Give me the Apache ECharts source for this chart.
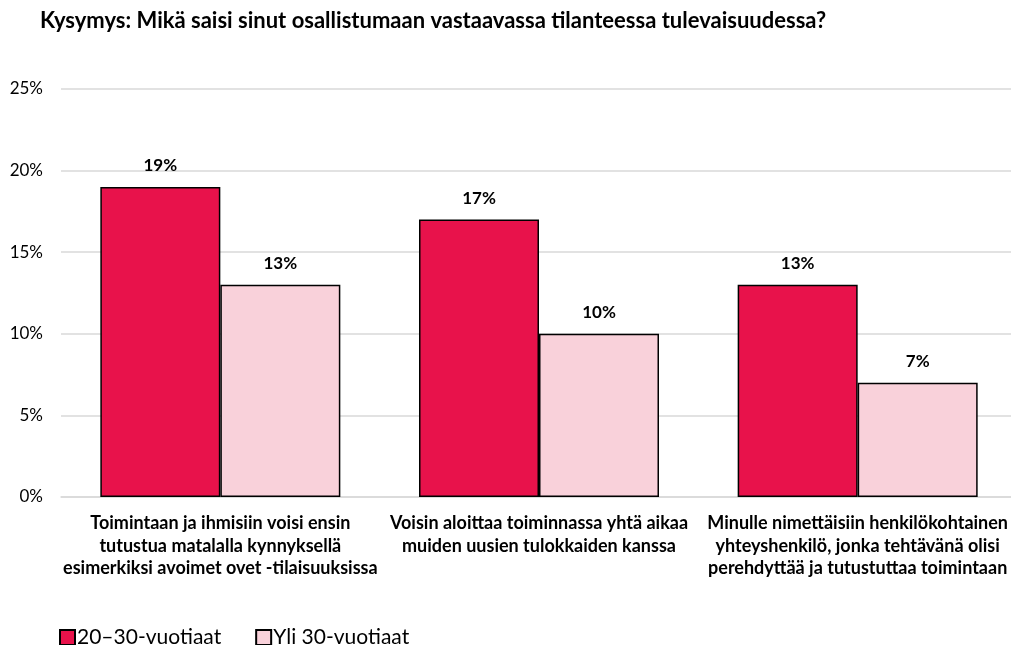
<!DOCTYPE html>
<html>
<head>
<meta charset="utf-8">
<script src="https://cdn.jsdelivr.net/npm/echarts@6/dist/echarts.min.js"></script>
<style>
  html, body { margin: 0; padding: 0; background: #fff; }
  #main { width: 1011px; height: 645px; }
</style>
</head>
<body>
<div id="main"></div>
<script>
var title = 'Kysymys: Mikä saisi sinut osallistumaan vastaavassa tilanteessa tulevaisuudessa?';
var categories = [
  'Toimintaan ja ihmisiin voisi ensin\ntutustua matalalla kynnyksellä\nesimerkiksi avoimet ovet -tilaisuuksissa',
  'Voisin aloittaa toiminnassa yhtä aikaa\nmuiden uusien tulokkaiden kanssa',
  'Minulle nimettäisiin henkilökohtainen\nyhteyshenkilö, jonka tehtävänä olisi\nperehdyttää ja tutustuttaa toimintaan'
];
var seriesNames = ['20–30-vuotiaat', 'Yli 30-vuotiaat'];
var young = [19, 17, 13];
var older = [13, 10, 7];

var font = 'Lato, "Open Sans", sans-serif';
var chart = echarts.init(document.getElementById('main'));

var labelStyle = {
  show: true,
  position: 'top',
  distance: 13,
  formatter: '{c}%',
  fontFamily: font,
  fontSize: 17,
  fontWeight: 'bold',
  color: '#000'
};

var option = {
  backgroundColor: '#fff',
  title: {
    text: title,
    left: 35,
    top: 5,
    textStyle: { fontFamily: font, fontSize: 22, fontWeight: 'bold', color: '#000' }
  },
  legend: {
    left: 54,
    top: 622,
    icon: 'rect',
    itemWidth: 15,
    itemHeight: 15,
    itemGap: 34,
    textStyle: { fontFamily: font, fontSize: 21, color: '#000', padding: [0, 0, 0, -3] },
    data: seriesNames
  },
  grid: {
    left: 61,
    width: 956,
    top: 89,
    bottom: 148,
    outerBoundsMode: 'none'
  },
  xAxis: {
    type: 'category',
    data: categories,
    axisLine: { show: true, lineStyle: { color: '#d9d9d9', width: 1.5 } },
    axisTick: { show: false },
    axisLabel: {
      interval: 0,
      margin: 15,
      fontFamily: font,
      fontSize: 18,
      fontWeight: 'bold',
      lineHeight: 22.5,
      color: '#000'
    }
  },
  yAxis: {
    type: 'value',
    min: 0,
    max: 25,
    interval: 5,
    axisLine: { show: false },
    axisTick: { show: false },
    splitLine: { lineStyle: { color: '#d9d9d9', width: 1.5 } },
    axisLabel: {
      formatter: '{value}%',
      margin: 18,
      fontFamily: font,
      fontSize: 17,
      color: '#000'
    }
  },
  series: [
    {
      name: seriesNames[0],
      type: 'bar',
      data: young,
      barWidth: 120,
      barGap: '0%',
      itemStyle: { color: '#e8124b', borderColor: '#000', borderWidth: 1.5 },
      label: labelStyle
    },
    {
      name: seriesNames[1],
      type: 'bar',
      data: older,
      barWidth: 120,
      barGap: '0%',
      itemStyle: { color: '#f9d1da', borderColor: '#000', borderWidth: 1.5 },
      label: labelStyle
    }
  ]
};

chart.setOption(option);
</script>
</body>
</html>
